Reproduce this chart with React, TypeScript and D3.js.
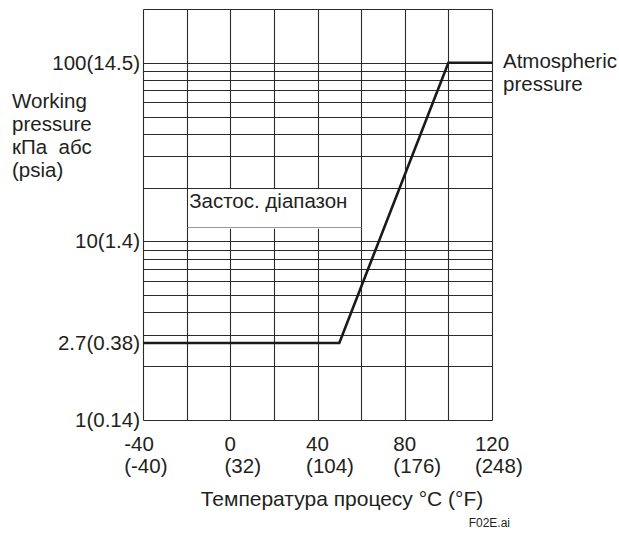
import * as d3 from 'd3';

const tempTicks = [-40, 0, 40, 80, 120];
const tempTicksF = ['(-40)', '(32)', '(104)', '(176)', '(248)'];
const gridTemps = [-40, -20, 0, 20, 40, 60, 80, 100, 120];

const pressureTicks = [100, 10, 2.7, 1];
const pressureLabels = ['100(14.5)', '10(1.4)', '2.7(0.38)', '1(0.14)'];
const gridPressures = [1, 2, 3, 4, 5, 6, 7, 8, 9, 10, 20, 30, 40, 50, 60, 70, 80, 90, 100, 200];

// working limit: temperature (°C) vs pressure (kPa abs)
const curveTemp = [-40, 50, 100, 120];
const curvePressure = [2.7, 2.7, 100, 100];

// "applicable range" label box
const boxTemp = [-20, 60];
const boxPressure = [12, 20];

const yTitle = ['Working', 'pressure', 'кПа  абс', '(psia)'];
const rightLabel = ['Atmospheric', 'pressure'];

const width = 619;
const height = 536;
const margin = { top: 9, right: 127, bottom: 116, left: 143 };
const ink = '#231f20';
const font = "'Liberation Sans', Arial, sans-serif";
const fs = 20.5;

const px = (v: number) => Math.round(v) + 0.5;

const approxWidth = (s: string, size: number) =>
  s.split('').reduce((acc, c) => acc + (c === '-' || c === '(' || c === ')' ? 0.333 : 0.556), 0) * size;

export default function App() {
  const x = d3
    .scaleLinear()
    .domain([-40, 120])
    .range([margin.left, width - margin.right]);
  const y = d3
    .scaleLog()
    .domain([1, 200])
    .range([height - margin.bottom, margin.top]);

  const pts: [number, number][] = curveTemp.map((t, i) => [x(t), y(curvePressure[i])]);
  const line = d3.line();

  const x0 = x.range()[0];
  const x1 = x.range()[1];
  const yTop = y(200);
  const yBot = y(1);

  return (
    <svg width={width} height={height} style={{ position: 'absolute', left: 0, top: 0, background: '#fff' }}>
      <rect width={width} height={height} fill="#fff" />
      <g stroke="#2b2b2b" strokeWidth={1.1} fill="none">
        {gridTemps.map((t) => (
          <line key={'v' + t} x1={px(x(t))} x2={px(x(t))} y1={px(yTop)} y2={px(yBot)} />
        ))}
        {gridPressures.map((p) => (
          <line key={'h' + p} x1={px(x0)} x2={px(x1)} y1={px(y(p))} y2={px(y(p))} />
        ))}
      </g>

      <rect
        x={px(x(boxTemp[0])) + 0.6}
        y={px(y(boxPressure[1])) + 0.6}
        width={px(x(boxTemp[1])) - px(x(boxTemp[0])) - 1.2}
        height={y(boxPressure[0]) - y(boxPressure[1])}
        fill="#fff"
      />
      <line
        x1={px(x(boxTemp[0]))}
        x2={px(x(boxTemp[1]))}
        y1={px(y(boxPressure[0]))}
        y2={px(y(boxPressure[0]))}
        stroke="#999"
        strokeWidth={1}
      />
      <text
        x={x(boxTemp[0]) + 2.5}
        y={y(boxPressure[1]) + 20}
        fontFamily={font}
        fontSize={fs}
        fill={ink}
      >
        Застос. діапазон
      </text>

      <path d={line(pts) ?? ''} fill="none" stroke="#1a1a1a" strokeWidth={2.6} strokeLinejoin="miter" />

      <g fontFamily={font} fontSize={fs} fill={ink}>
        {pressureTicks.map((p, i) => (
          <text key={'yl' + p} x={x0 - 3} y={y(p) + 7} textAnchor="end">
            {pressureLabels[i]}
          </text>
        ))}
        {tempTicks.map((t, i) => (
          <text key={'xc' + t} x={x(t) - (i === 0 ? 4 : 0)} y={451} textAnchor="middle">
            {String(t)}
          </text>
        ))}
        {tempTicks.map((t, i) => (
          <text key={'xf' + t} x={x(t) - (i === 0 ? 4 : 0) - approxWidth(String(t), fs) / 2} y={473} textAnchor="start">
            {tempTicksF[i]}
          </text>
        ))}
        <text x={x(-20) + 14} y={506} fontSize={21}>
          Температура процесу °C (°F)
        </text>
        {yTitle.map((s, i) => (
          <text key={'yt' + i} x={12} y={107.5 + i * 23} style={{ whiteSpace: 'pre' }}>
            {s}
          </text>
        ))}
        {rightLabel.map((s, i) => (
          <text key={'rl' + i} x={x1 + 11} y={67.5 + i * 23.5}>
            {s}
          </text>
        ))}
      </g>
      <text x={510} y={527} textAnchor="end" fontFamily={font} fontSize={12} fill={ink}>
        F02E.ai
      </text>
    </svg>
  );
}
